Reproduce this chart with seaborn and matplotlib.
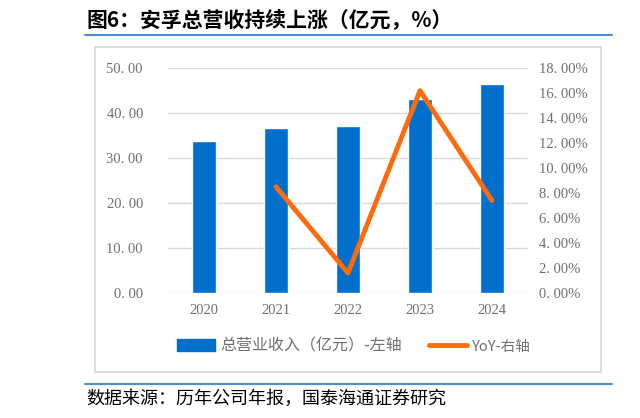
import matplotlib
matplotlib.use("Agg")
import matplotlib.pyplot as plt
import seaborn as sns
import pandas as pd
from matplotlib.lines import Line2D
from matplotlib.patches import Patch, Rectangle

# data
years = ["2020", "2021", "2022", "2023", "2024"]
revenue = [33.8, 36.6, 37.2, 43.2, 46.4]
yoy_years = ["2021", "2022", "2023", "2024"]
yoy = [8.5, 1.6, 16.2, 7.4]

left_ticks = [0, 10, 20, 30, 40, 50]
right_ticks = [0, 2, 4, 6, 8, 10, 12, 14, 16, 18]

title = "图6：安孚总营收持续上涨（亿元，%）"
source = "数据来源：历年公司年报，国泰海通证券研究"
bar_label = "总营业收入（亿元）-左轴"
line_label = "YoY-右轴"

sns.set_theme(style="white")
plt.rcParams['font.family'] = ['Noto Sans CJK SC', 'DejaVu Sans']

blue = "#0070CC"
orange = "#FF6A0D"
gray_txt = "#707070"

df = pd.DataFrame({"year": years, "revenue": revenue})

fig = plt.figure(figsize=(6.4, 4.18), dpi=100)
ax = fig.add_axes([0.2625, 0.299, 0.5625, 0.538])

sns.barplot(data=df, x="year", y="revenue", color=blue, width=0.32,
            saturation=1, ax=ax, zorder=3)
ax.set_ylim(0, 50)
ax.set_yticks(left_ticks)
ax.set_yticklabels([f"{v:.2f}".replace(".", ". ") for v in left_ticks],
                   family="Liberation Serif", fontsize=10.5, color=gray_txt)
ax.set_xlabel("")
ax.set_ylabel("")
ax.tick_params(axis="x", labelsize=10.5, colors=gray_txt, length=0, pad=8)
ax.tick_params(axis="y", length=0, pad=18)
for lab in ax.get_xticklabels():
    lab.set_family("Liberation Serif")
ax.grid(axis="y", color="#D9D9D9", linewidth=1, zorder=0)
for s in ax.spines.values():
    s.set_visible(False)
ax.set_xlim(-0.5, 4.5)

ax2 = ax.twinx()
xpos = [years.index(y) for y in yoy_years]
sns.lineplot(x=xpos, y=yoy, color=orange, linewidth=3.5, ax=ax2, zorder=4)
ax2.set_ylim(0, 18)
ax2.set_yticks(right_ticks)
ax2.set_yticklabels([f"{v:.2f}".replace(".", ". ") + "%" for v in right_ticks],
                    family="Liberation Serif", fontsize=10.5, color=gray_txt)
ax2.tick_params(axis="y", length=0, pad=8)
ax2.set_ylabel("")
for s in ax2.spines.values():
    s.set_visible(False)
ax2.set_xlim(-0.5, 4.5)

# legend
handles = [Patch(facecolor=blue, edgecolor=blue),
           Line2D([0], [0], color=orange, linewidth=3.5)]
leg = fig.legend(handles, [bar_label, line_label], loc="center",
                 bbox_to_anchor=(0.553, 0.172), ncol=2, frameon=False,
                 fontsize=11.5, handlelength=2.4, columnspacing=1.7,
                 handletextpad=0.3)
for t in leg.get_texts():
    t.set_color(gray_txt)
leg.get_texts()[1].set_fontsize(10.5)

# chart frame
fig.patches.append(Rectangle((95 / 640, 1 - 372 / 418), (601 - 95) / 640,
                             (372 - 47) / 418, transform=fig.transFigure,
                             fill=False, edgecolor="#D9D9D9", linewidth=1.2))

# title and source
fig.text(86 / 640, 1 - 20 / 418, title, fontsize=15, fontweight="bold",
         color="black", va="center", ha="left")
fig.add_artist(Line2D([85 / 640, 612 / 640], [1 - 35 / 418] * 2,
                      transform=fig.transFigure, color="#4A90D0", linewidth=1.5))
fig.add_artist(Line2D([85 / 640, 612 / 640], [1 - 384 / 418] * 2,
                      transform=fig.transFigure, color="#4A90D0", linewidth=1.5))
fig.text(86 / 640, 1 - 399 / 418, source, fontsize=13, color="black",
         va="center", ha="left")

fig.savefig("out.png", dpi=100)
